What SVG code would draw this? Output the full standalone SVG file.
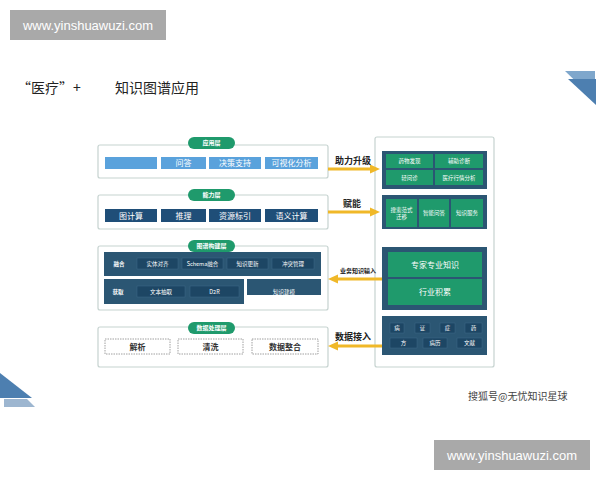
<svg xmlns="http://www.w3.org/2000/svg" width="600" height="480" viewBox="0 0 600 480">
<defs>
<style>
.t{font-family:"Noto Sans CJK SC","Liberation Sans",sans-serif;}
.wm{fill:#a9a9a9;}
.wmt{font-family:"Liberation Sans","DejaVu Sans",sans-serif;font-size:13px;fill:#fff;text-anchor:middle;}
.panel{fill:#fff;stroke:#c6d3d0;stroke-width:1.2;}
.pill{fill:#1f9a6c;}
.pillt{font-family:"Noto Sans CJK SC",sans-serif;font-size:6px;fill:#fff;text-anchor:middle;font-weight:bold;}
.lb{fill:#5aa2dc;}
.db{fill:#1f4e78;}
.dk{fill:#2b5673;}
.sub{fill:#1d4664;stroke:#3f6a86;stroke-width:0.5;}
.gc{fill:#1f9a6c;}
.bt{font-family:"Noto Sans CJK SC",sans-serif;font-size:8px;fill:#fff;text-anchor:middle;}
.st{font-family:"Noto Sans CJK SC",sans-serif;font-size:5.5px;fill:#fff;text-anchor:middle;}
.dash{fill:#fff;stroke:#888;stroke-width:0.8;stroke-dasharray:1.5,1;}
.dt{font-family:"Noto Sans CJK SC",sans-serif;font-size:8px;fill:#333;text-anchor:middle;font-weight:bold;}
.arr{stroke:#f0b828;stroke-width:3;fill:none;}
.ah{fill:#f0b828;}
.al{font-family:"Noto Sans CJK SC",sans-serif;font-size:9px;fill:#222;font-weight:bold;text-anchor:middle;}
.als{font-family:"Noto Sans CJK SC",sans-serif;font-size:6px;fill:#222;font-weight:bold;text-anchor:middle;}
</style>
</defs>
<rect width="600" height="480" fill="#fff"/>
<!-- watermarks -->
<g id="wm-top"><rect class="wm" x="10" y="10" width="156" height="30"/><text class="wmt" x="88" y="30">www.yinshuawuzi.com</text></g>
<g id="wm-bottom"><rect class="wm" x="434" y="440" width="156" height="30"/><text class="wmt" x="512" y="460">www.yinshuawuzi.com</text></g>
<!-- title -->
<text class="t" x="17" y="93" font-size="14" fill="#222">“医疗”+</text>
<text class="t" x="115" y="93" font-size="14" fill="#222">知识图谱应用</text>
<text class="t" x="468" y="400" font-size="10" fill="#444">搜狐号@无忧知识星球</text>
<!-- decorative triangles -->
<polygon points="565,71 595,71 595,100" fill="#7fa7cc"/>
<polygon points="568,79 596,79 596,105" fill="#4d7fb0"/>
<polygon points="0,373 32,398 0,398" fill="#4d7fb0"/>
<polygon points="4,399 27,399 35,407 4,407" fill="#9db6d0"/>

<!-- 应用层 -->
<g id="app-layer">
<rect class="panel" x="98" y="145" width="230" height="33" rx="2"/>
<rect class="pill" x="188" y="137" width="47" height="12" rx="6"/><text class="pillt" x="211.5" y="145">应用层</text>
<rect class="lb" x="105" y="157" width="52" height="12"/>
<rect class="lb" x="161" y="157" width="45" height="12"/><text class="bt" x="183.5" y="166">问答</text>
<rect class="lb" x="209" y="157" width="52" height="12"/><text class="bt" x="235" y="166">决策支持</text>
<rect class="lb" x="265" y="157" width="53" height="12"/><text class="bt" x="291.5" y="166">可视化分析</text>
</g>
<!-- 能力层 -->
<g id="ability-layer">
<rect class="panel" x="98" y="195" width="230" height="34" rx="2"/>
<rect class="pill" x="188" y="189" width="47" height="12" rx="6"/><text class="pillt" x="211.5" y="197">能力层</text>
<rect class="db" x="105" y="209" width="52" height="13"/><text class="bt" x="131" y="218.5">图计算</text>
<rect class="db" x="161" y="209" width="45" height="13"/><text class="bt" x="183.5" y="218.5">推理</text>
<rect class="db" x="209" y="209" width="52" height="13"/><text class="bt" x="235" y="218.5">资源标引</text>
<rect class="db" x="265" y="209" width="53" height="13"/><text class="bt" x="291.5" y="218.5">语义计算</text>
</g>
<!-- 图谱构建层 -->
<g id="build-layer">
<rect class="panel" x="98" y="246" width="230" height="64" rx="2"/>
<rect class="dk" x="104" y="252" width="217" height="24"/>
<rect class="dk" x="104" y="279" width="140" height="25"/>
<rect class="dk" x="247" y="279" width="74" height="16"/>
<rect class="pill" x="188" y="240" width="47" height="12" rx="6"/><text class="pillt" x="211.5" y="248">图谱构建层</text>
<text class="st" x="119" y="266" font-weight="bold">融合</text>
<rect class="sub" x="137" y="258" width="41" height="11"/><text class="st" x="157.5" y="265.5">实体对齐</text>
<rect class="sub" x="182" y="258" width="41" height="11"/><text class="st" x="202.5" y="265.5">Schema融合</text>
<rect class="sub" x="227" y="258" width="41" height="11"/><text class="st" x="247.5" y="265.5">知识更新</text>
<rect class="sub" x="272" y="258" width="42" height="11"/><text class="st" x="293" y="265.5">冲突管理</text>
<text class="st" x="118" y="294" font-weight="bold">获取</text>
<rect class="sub" x="137" y="286" width="48" height="11"/><text class="st" x="161" y="293.5">文本抽取</text>
<rect class="sub" x="190" y="286" width="49" height="11"/><text class="st" x="214.5" y="293.5">D2R</text>
<text class="st" x="284" y="294">知识建模</text>
</g>
<!-- 数据处理层 -->
<g id="data-layer">
<rect class="panel" x="98" y="327" width="230" height="40" rx="2"/>
<rect class="pill" x="188" y="322" width="47" height="12" rx="6"/><text class="pillt" x="211.5" y="330">数据处理层</text>
<rect class="dash" x="105" y="339" width="65" height="15"/><text class="dt" x="137.5" y="350">解析</text>
<rect class="dash" x="178" y="339" width="65" height="15"/><text class="dt" x="210.5" y="350">清洗</text>
<rect class="dash" x="252" y="339" width="66" height="15"/><text class="dt" x="285" y="350">数据整合</text>
</g>
<!-- right panel -->
<g id="domain-panel">
<rect class="panel" x="375" y="137" width="119" height="230" rx="2"/>
<rect class="dk" x="382" y="151" width="105" height="38"/>
<rect class="gc" x="386" y="154" width="47" height="14"/><text class="st" x="409.5" y="163">药物发现</text>
<rect class="gc" x="435" y="154" width="48" height="14"/><text class="st" x="459" y="163">辅助诊断</text>
<rect class="gc" x="386" y="170" width="47" height="15"/><text class="st" x="409.5" y="179.5">轻问诊</text>
<rect class="gc" x="435" y="170" width="48" height="15"/><text class="st" x="459" y="179.5">医疗行情分析</text>
<rect class="dk" x="382" y="195" width="105" height="34"/>
<rect class="gc" x="386" y="199" width="31" height="28"/><text class="st" x="401.5" y="212">搜索范式</text><text class="st" x="401.5" y="219">迁移</text>
<rect class="gc" x="419" y="199" width="30" height="28"/><text class="st" x="434" y="215">智能问答</text>
<rect class="gc" x="451" y="199" width="32" height="28"/><text class="st" x="467" y="215">知识服务</text>
<rect class="dk" x="382" y="247" width="105" height="63"/>
<rect class="gc" x="388" y="252" width="94" height="25"/><text class="bt" x="435" y="267.5">专家专业知识</text>
<rect class="gc" x="388" y="279" width="94" height="26"/><text class="bt" x="435" y="295">行业积累</text>
<rect class="dk" x="382" y="316" width="105" height="39"/>
<rect class="sub" x="390" y="323" width="14" height="10"/><text class="st" x="397" y="330">病</text>
<rect class="sub" x="415" y="323" width="15" height="10"/><text class="st" x="422.5" y="330">证</text>
<rect class="sub" x="440" y="323" width="15" height="10"/><text class="st" x="447.5" y="330">症</text>
<rect class="sub" x="465" y="323" width="17" height="10"/><text class="st" x="473.5" y="330">药</text>
<rect class="sub" x="390" y="338" width="27" height="10"/><text class="st" x="403.5" y="345">方</text>
<rect class="sub" x="423" y="338" width="24" height="10"/><text class="st" x="435" y="345">病历</text>
<rect class="sub" x="457" y="338" width="25" height="10"/><text class="st" x="469.5" y="345">文献</text>
</g>
<!-- connectors -->
<g id="connectors">
<line class="arr" x1="328" y1="169" x2="371" y2="169"/><polygon class="ah" points="370,164.5 380,169 370,173.5"/>
<text class="al" x="353" y="164">助力升级</text>
<line class="arr" x1="328" y1="212" x2="371" y2="212"/><polygon class="ah" points="370,207.5 380,212 370,216.5"/>
<text class="al" x="352" y="207">赋能</text>
<line class="arr" x1="382" y1="279" x2="337" y2="279"/><polygon class="ah" points="338,274.5 328,279 338,283.5"/>
<text class="als" x="358" y="273">业务知识输入</text>
<line class="arr" x1="382" y1="346" x2="337" y2="346"/><polygon class="ah" points="338,341.5 328,346 338,350.5"/>
<text class="al" x="353" y="340">数据接入</text>
</g>
</svg>
